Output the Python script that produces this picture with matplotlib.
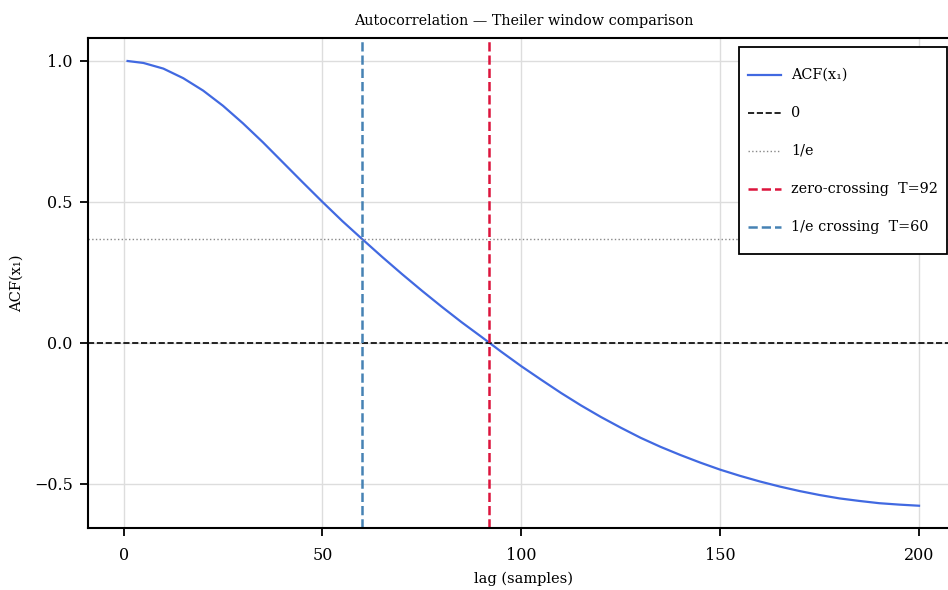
import matplotlib
matplotlib.use("Agg")
import matplotlib.pyplot as plt
import matplotlib.transforms as mtransforms

plt.rcParams['font.family'] = ['DejaVu Serif', 'DejaVu Sans']

lags = [1, 5, 10, 15, 20, 25, 30, 35, 40, 45, 50, 55, 60, 65, 70, 75, 80, 85, 90, 95,
        100, 105, 110, 115, 120, 125, 130, 135, 140, 145, 150, 155, 160, 165, 170,
        175, 180, 185, 190, 195, 200]
acf = [1.000, 0.993, 0.973, 0.939, 0.895, 0.841, 0.779, 0.712, 0.641, 0.570, 0.500,
       0.432, 0.368, 0.305, 0.244, 0.185, 0.128, 0.073, 0.021, -0.032,
       -0.083, -0.131, -0.178, -0.222, -0.263, -0.301, -0.337, -0.369, -0.398,
       -0.425, -0.450, -0.472, -0.492, -0.510, -0.526, -0.540, -0.552, -0.561,
       -0.569, -0.574, -0.578]
inv_e = 0.36788
t_zero = 92
t_inv_e = 60

fig = plt.figure(figsize=(9.48, 5.90), dpi=100)
ax = fig.add_axes([88 / 948, 62 / 590, 870.6 / 948, 490 / 590])

ax.grid(True, color='#dddddd', linewidth=1.0)
ax.set_axisbelow(True)

ax.plot(lags, acf, color='#4169E1', linewidth=1.6, label='ACF(x\u2081)')
ax.axhline(0, color='black', linestyle='--', linewidth=1.2, label='0')
ax.axhline(inv_e, color='#888888', linestyle=':', linewidth=1.0, label='1/e')
ax.axvline(t_zero, color='#DC143C', linestyle='--', linewidth=1.8,
           label=f'zero-crossing  T={t_zero}')
ax.axvline(t_inv_e, color='#4682B4', linestyle='--', linewidth=1.8,
           label=f'1/e crossing  T={t_inv_e}')

ax.set_xlim(-8.95, 209.95)
ax.set_ylim(-0.657, 1.0816)
ax.set_xticks([0, 50, 100, 150, 200])
ax.set_yticks([-0.5, 0.0, 0.5, 1.0])
ax.set_yticklabels(['\u22120.5', '0.0', '0.5', '1.0'])

for s in ax.spines.values():
    s.set_linewidth(1.5)
    s.set_color('black')
ax.tick_params(direction='out', length=6, width=1.3, labelsize=11.5)
ax.tick_params(axis='x', pad=8)
ax.tick_params(axis='y', pad=5)

ax.set_title('Autocorrelation \u2014 Theiler window comparison', fontsize=10.4, pad=9)
ax.set_xlabel('lag (samples)', fontsize=10.5, labelpad=5)
ax.set_ylabel('ACF(x\u2081)', fontsize=10.5, labelpad=7)

leg = ax.legend(loc='upper right', bbox_to_anchor=(947 / 948, 1 - 47 / 590),
                bbox_transform=fig.transFigure, fancybox=False, framealpha=1,
                edgecolor='black', fontsize=10.4, labelspacing=0.0,
                handleheight=3.67, borderpad=0.6, handlelength=2.26,
                handletextpad=0.75, borderaxespad=0)
leg.get_frame().set_linewidth(1.3)
shift = mtransforms.ScaledTranslation(0, -7.5 / 100, fig.dpi_scale_trans)
for h in leg.legend_handles:
    h.set_transform(h.get_transform() + shift)

fig.savefig('out.png', dpi=100)
